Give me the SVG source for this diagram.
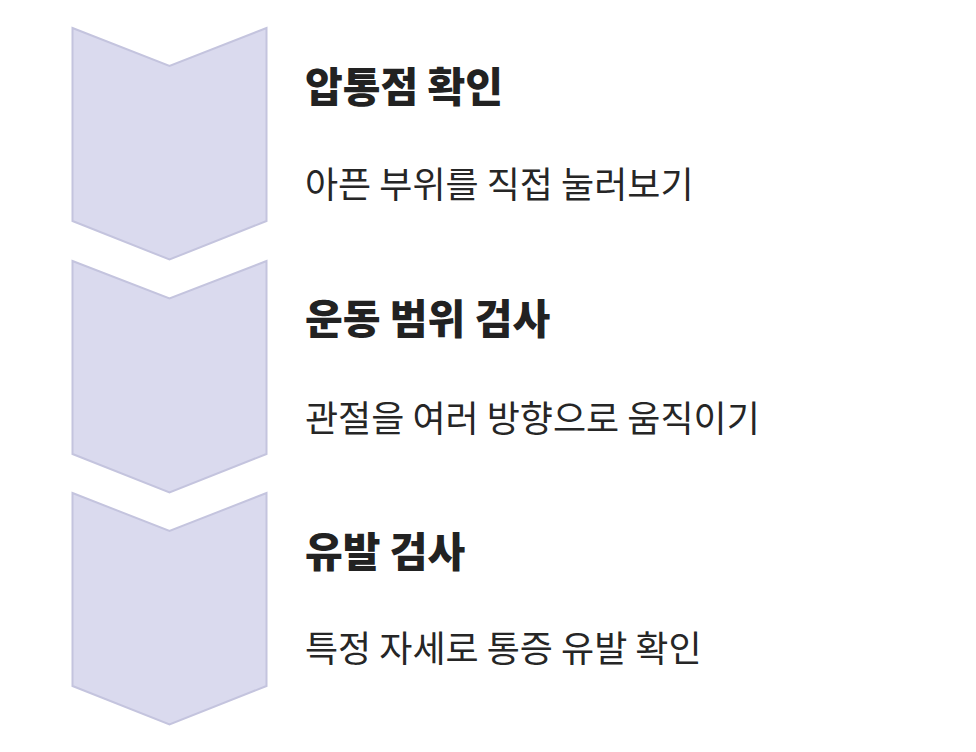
<svg xmlns="http://www.w3.org/2000/svg" width="976" height="752" viewBox="0 0 976 752">
<style>
.chev{fill:#dadaee;stroke:#c4c4de;stroke-width:2;stroke-linejoin:miter}
.title{font-family:"Noto Sans CJK KR","Noto Sans",sans-serif;font-weight:900;font-size:41px;fill:#222222}
.desc{font-family:"Noto Sans CJK KR","Noto Sans",sans-serif;font-weight:400;font-size:36px;fill:#262626}
</style>
<rect width="976" height="752" fill="#ffffff"/>
<g id="step1">
<polygon class="chev" points="72.5,28 169.5,66 266.5,28 266.5,221 169.5,259.5 72.5,221"/>
<text class="title" x="305" y="101.5">압통점 확인</text>
<text class="desc" x="305" y="198">아픈 부위를 직접 눌러보기</text>
</g>
<g id="step2">
<polygon class="chev" points="72.5,261 169.5,298.5 266.5,261 266.5,454 169.5,492.5 72.5,454"/>
<text class="title" x="305" y="333.5">운동 범위 검사</text>
<text class="desc" x="305" y="432">관절을 여러 방향으로 움직이기</text>
</g>
<g id="step3">
<polygon class="chev" points="72.5,493 169.5,531 266.5,493 266.5,686 169.5,724.5 72.5,686"/>
<text class="title" x="305" y="566.5">유발 검사</text>
<text class="desc" x="305" y="662">특정 자세로 통증 유발 확인</text>
</g>
<g id="connectors"></g>
</svg>
